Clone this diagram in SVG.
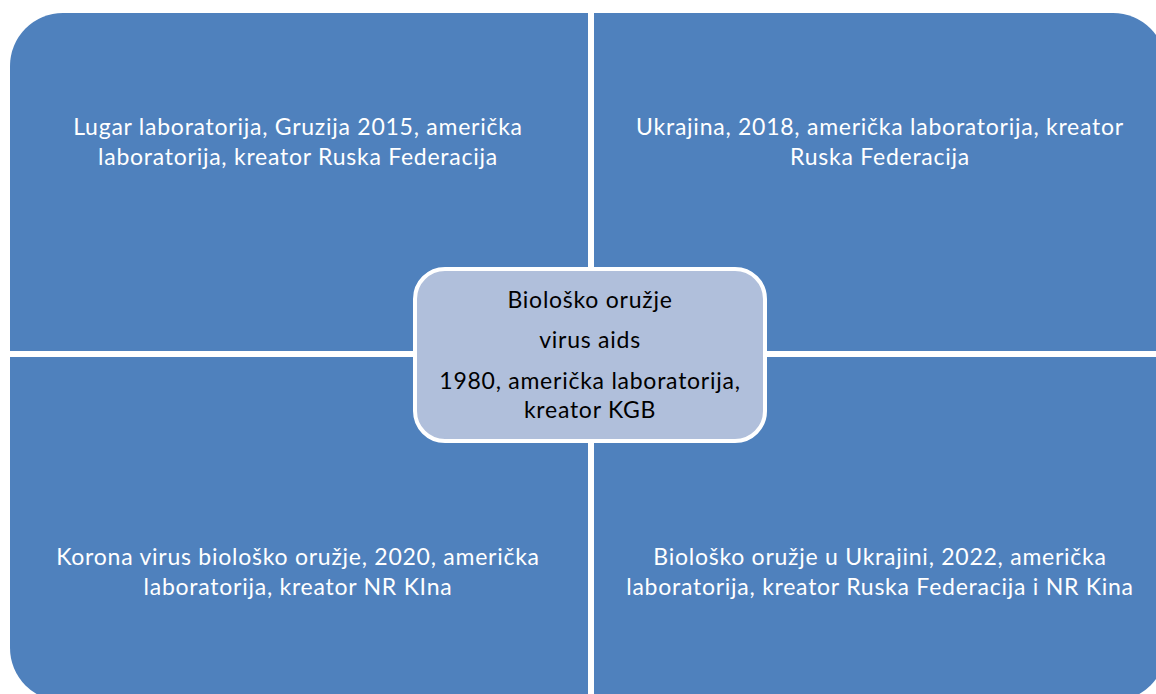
<svg xmlns="http://www.w3.org/2000/svg" width="1156" height="694" viewBox="0 0 1156 694">
<style>
.q{fill:#4F81BD;}
.qt{font-family:Lato,"Open Sans","Liberation Sans",sans-serif;font-size:23px;letter-spacing:0.75px;fill:#ffffff;text-anchor:middle;}
.ct{font-family:Lato,"Open Sans","Liberation Sans",sans-serif;font-size:23px;letter-spacing:0.75px;fill:#000000;text-anchor:middle;}
.c{fill:#B0BFDB;stroke:#ffffff;stroke-width:4;}
</style>
<rect width="1156" height="694" fill="#ffffff"/>
<g id="q-top-left">
<path class="q" d="M10,66 A53,53 0 0 1 63,13 L588,13 L588,351 L10,351 Z"/>
<text class="qt" x="298" y="135">Lugar laboratorija, Gruzija 2015, američka</text>
<text class="qt" x="298" y="165">laboratorija, kreator Ruska Federacija</text>
</g>
<g id="q-top-right">
<path class="q" d="M594,13 L1113,13 A53,53 0 0 1 1166,66 L1166,351 L594,351 Z"/>
<text class="qt" x="880" y="135">Ukrajina, 2018, američka laboratorija, kreator</text>
<text class="qt" x="880" y="165">Ruska Federacija</text>
</g>
<g id="q-bottom-left">
<path class="q" d="M10,357 L588,357 L588,701 L63,701 A53,53 0 0 1 10,648 Z"/>
<text class="qt" x="298" y="565">Korona virus biološko oružje, 2020, američka</text>
<text class="qt" x="298" y="595">laboratorija, kreator NR KIna</text>
</g>
<g id="q-bottom-right">
<path class="q" d="M594,357 L1166,357 L1166,648 A53,53 0 0 1 1113,701 L594,701 Z"/>
<text class="qt" x="880" y="565">Biološko oružje u Ukrajini, 2022, američka</text>
<text class="qt" x="880" y="595">laboratorija, kreator Ruska Federacija i NR Kina</text>
</g>
<g id="center">
<rect class="c" x="415" y="269" width="350" height="172" rx="30" ry="30"/>
<text class="ct" x="590" y="308">Biološko oružje</text>
<text class="ct" x="590" y="348">virus aids</text>
<text class="ct" x="590" y="389">1980, američka laboratorija,</text>
<text class="ct" x="590" y="418">kreator KGB</text>
</g>
<g id="connectors"></g>
</svg>
